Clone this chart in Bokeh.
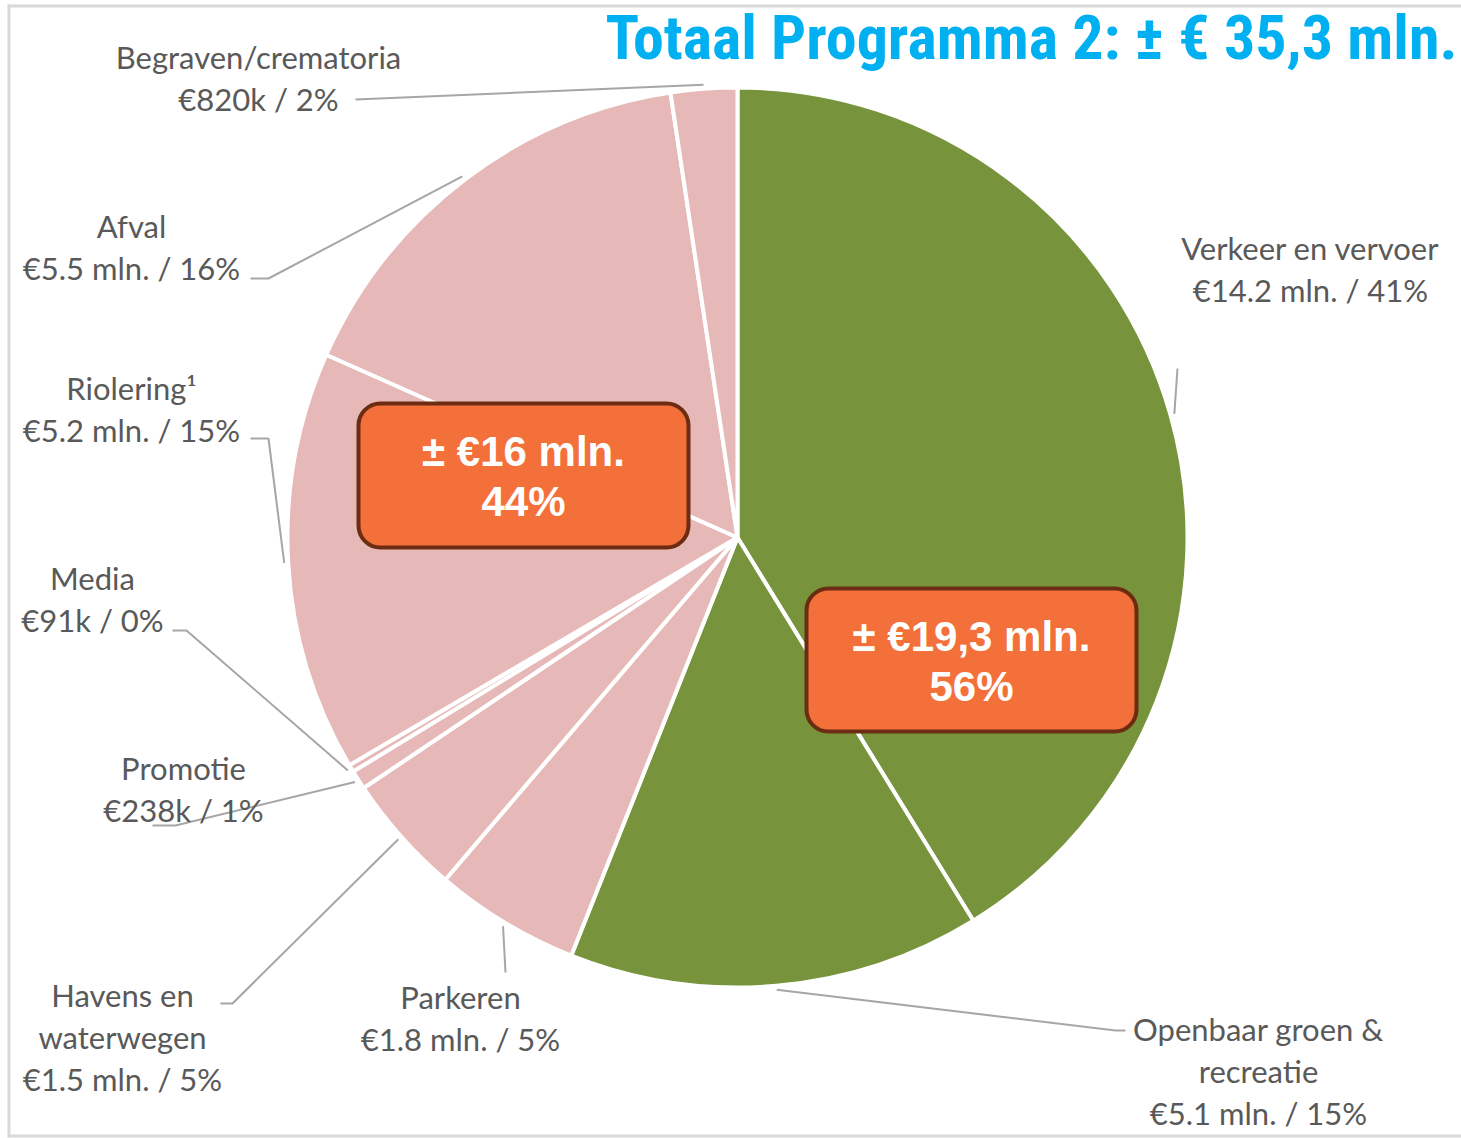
import numpy as np
from bokeh.plotting import figure
from bokeh.models import Range1d, ColumnDataSource
from bokeh.core.properties import value
from bokeh.embed import file_html
from bokeh.resources import INLINE

# ---------------- data ----------------
categories = ["Verkeer en vervoer", "Openbaar groen & recreatie", "Parkeren",
              "Havens en waterwegen", "Promotie", "Media", "Riolering¹",
              "Afval", "Begraven/crematoria"]
name_lines = [["Verkeer en vervoer"], ["Openbaar groen &", "recreatie"], ["Parkeren"],
              ["Havens en", "waterwegen"], ["Promotie"], ["Media"], ["Riolering¹"],
              ["Afval"], ["Begraven/crematoria"]]
values_mln = [14.2, 5.1, 1.8, 1.5, 0.238, 0.091, 5.2, 5.5, 0.82]
amount_labels = ["€14.2 mln.", "€5.1 mln.", "€1.8 mln.", "€1.5 mln.", "€238k",
                 "€91k", "€5.2 mln.", "€5.5 mln.", "€820k"]
pct_labels = ["41%", "15%", "5%", "5%", "1%", "0%", "15%", "16%", "2%"]
groups = ["groen", "groen", "overig", "overig", "overig", "overig", "overig", "overig", "overig"]

group_names = ["groen", "overig"]
group_amounts = ["± €19,3 mln.", "± €16 mln."]
group_pcts = ["56%", "44%"]

title_text = "Totaal Programma 2: ± € 35,3 mln."

# ---------------- style / layout ----------------
W, H = 1461, 1138
GREEN = "#77933C"
PINK = "#E6B9B8"
ORANGE = "#F4703A"
BROWN = "#6B2C12"
GREY_TXT = "#595959"
GREY_LINE = "#A6A6A6"
FRAME = "#D9D9D9"
LABEL_FONT = "Lato"
LABEL_SIZE = "31px"
LINE_GAP = 42

def X(sx):
    return sx

def Y(sy):
    return H - sy

CX, CY, R = 737, 537, 450
group_color = {"groen": GREEN, "overig": PINK}

# label anchor (center x, first line y) in page pixels
label_pos = [(1310, 247), (1258, 1028), (460, 996), (122, 994), (183, 767),
             (92, 577), (131, 387), (131, 225), (258, 56)]
# leader line points after the start on the pie edge
leader_pts = [[(1177, 368)],
              [(1115, 1030), (1125, 1030)],
              [(505, 972)],
              [(232, 1003), (220, 1003)],
              [(175, 825), (152, 825)],
              [(186, 630), (172, 630)],
              [(268, 438), (250, 438)],
              [(268, 278), (250, 278)],
              [(355, 99)]]
box_pos = {"groen": (806, 1136, 588, 731), "overig": (358, 688, 403, 547)}

# ---------------- figure ----------------
p = figure(width=W, height=H, output_backend="svg", toolbar_location=None,
           x_range=Range1d(0, W), y_range=Range1d(0, H),
           min_border=0, match_aspect=False)
p.axis.visible = False
p.grid.visible = False
p.outline_line_color = None
p.background_fill_color = "white"
p.border_fill_color = "white"

# frame (left, top, bottom)
p.segment(x0=[X(8.5), X(7), X(7)], y0=[Y(4), Y(5.5), Y(1135.5)],
          x1=[X(8.5), X(W), X(W)], y1=[Y(1137), Y(5.5), Y(1135.5)],
          line_color=FRAME, line_width=3)

# wedges
vals = np.array(values_mln)
tot = vals.sum()
cum = np.concatenate([[0], np.cumsum(vals)])
theta0 = cum[:-1] / tot * 2 * np.pi   # clockwise from top
theta1 = cum[1:] / tot * 2 * np.pi
src = ColumnDataSource(dict(
    start=np.pi / 2 - theta1, end=np.pi / 2 - theta0,
    color=[group_color[g] for g in groups], cat=categories))
p.wedge(x=X(CX), y=Y(CY), radius=R, start_angle="start", end_angle="end",
        direction="anticlock", fill_color="color", line_color="white",
        line_width=4, source=src)

# leader lines
mid = (theta0 + theta1) / 2
xs, ys = [], []
for i, m in enumerate(mid):
    r0 = R + 4
    sx = CX + r0 * np.sin(m)
    sy = CY - r0 * np.cos(m)
    pts = [(sx, sy)] + leader_pts[i]
    xs.append([X(a) for a, b in pts])
    ys.append([Y(b) for a, b in pts])
p.multi_line(xs=xs, ys=ys, line_color=GREY_LINE, line_width=2)

# labels
tx, ty, tt = [], [], []
for i in range(len(categories)):
    lines = name_lines[i] + [f"{amount_labels[i]} / {pct_labels[i]}"]
    cx, cy = label_pos[i]
    for j, s in enumerate(lines):
        tx.append(X(cx)); ty.append(Y(cy + j * LINE_GAP)); tt.append(s)
p.text(x=tx, y=ty, text=tt, text_font=value(LABEL_FONT), text_font_size=LABEL_SIZE,
       text_color=GREY_TXT, text_align="center", text_baseline="middle")

# group boxes
for gi, g in enumerate(group_names):
    l, r, t, b = box_pos[g]
    p.quad(left=X(l), right=X(r), top=Y(t), bottom=Y(b), fill_color=ORANGE,
           line_color=BROWN, line_width=4, border_radius=22)
    cx = (l + r) / 2
    p.text(x=[X(cx), X(cx)], y=[Y(t + 48), Y(t + 98)],
           text=[group_amounts[gi], group_pcts[gi]],
           text_font=value("Liberation Sans"), text_font_size="42px",
           text_font_style="bold", text_color="white",
           text_align="center", text_baseline="middle")

# title
p.text(x=[X(1457)], y=[Y(37)], text=[title_text],
       text_font=value("'Roboto Condensed', 'Liberation Sans Narrow', 'DejaVu Sans Condensed', sans-serif"),
       text_font_size="62px", text_font_style="bold", text_color="#00B0F0",
       text_align="right", text_baseline="middle")

open("out.html", "w").write(file_html(p, INLINE))
